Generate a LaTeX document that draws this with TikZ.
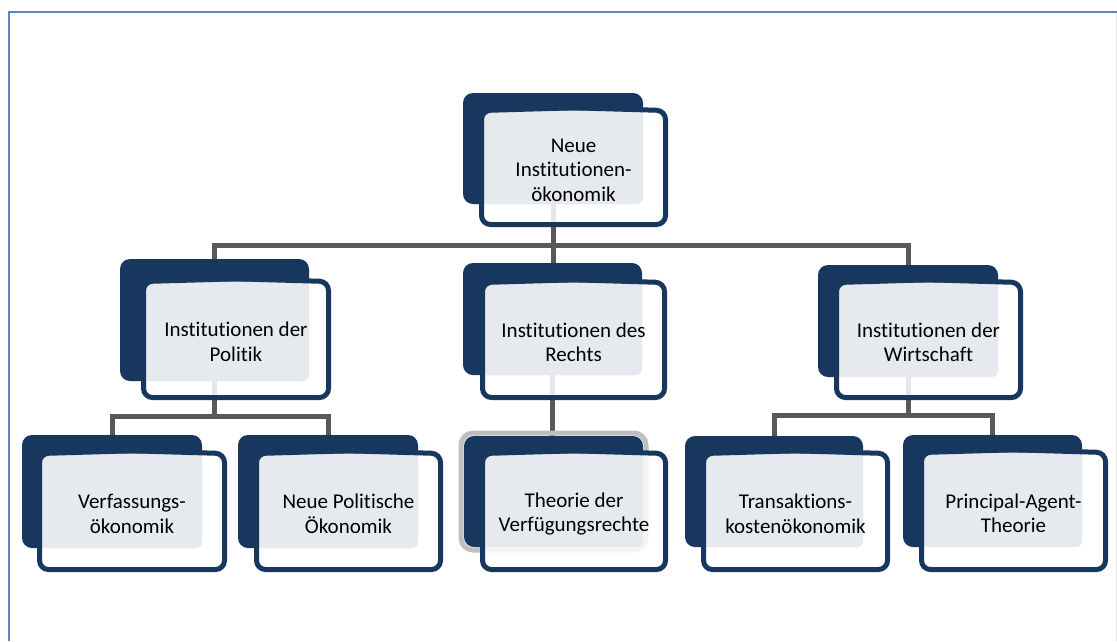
\documentclass[tikz,border=0pt]{standalone}
\usepackage{fontspec}
\setmainfont{Carlito}[Ligatures=NoCommon]
\usetikzlibrary{fit}

\definecolor{navy}{HTML}{17375E}
\definecolor{panelgray}{HTML}{E6E9EE}
\definecolor{linkgray}{HTML}{595959}
\definecolor{frameblue}{HTML}{5B85C6}
\definecolor{halogray}{HTML}{BFBFBF}

\tikzset{
  backbox/.style={rectangle, rounded corners=10pt, fill=navy, inner sep=0pt, draw=none},
  frontfill/.style={fill=white, fill opacity=0.86, rounded corners=9pt},
  frontline/.style={draw=navy, line width=5pt, rounded corners=9pt, line join=round},
  panel/.style={fill=panelgray, rounded corners=6pt},
  conn/.style={draw=linkgray, line width=5pt},
  boxtext/.style={align=center, text=black, font=\fontsize{21}{24.5}\selectfont, inner sep=0pt, yshift=-2.5pt},
  halo/.style={draw=halogray, line width=5pt, rounded corners=12pt, line join=round},
}

% #1 name, #2 back top-left, #3 back bottom-right,
% #4 front top-left, #5 front bottom-right, #6 caption
\newcommand\orgbox[6]{%
  \coordinate (#1-bnw) at (#2);
  \coordinate (#1-bse) at (#3);
  \coordinate (#1-fnw) at (#4);
  \coordinate (#1-fse) at (#5);
  \coordinate (#1-enw) at ([shift={(2.5,2.5)}]#1-fnw);
  \coordinate (#1-ese) at ([shift={(-2.5,-2.5)}]#1-fse);
  \node[backbox, fit=(#1-bnw)(#1-bse)] (#1) {};
  \node[inner sep=0pt, fit=(#1-fnw)(#1-fse)] (#1f) {};
  \fill[frontfill] (#1-enw) rectangle (#1-ese);
  \begin{scope}
    \clip[rounded corners=9pt] (#1-enw) rectangle (#1-ese);
    \fill[panel] (#1-fnw) rectangle (#1-bse);
  \end{scope}
  \draw[frontline] (#1f.north) -- (#1-enw -| #1-ese) -- (#1-ese)
    -- (#1-ese -| #1-enw) -- (#1-enw) -- cycle;
  \node[boxtext] (#1t) at (#1f.center) {#6};
}

\begin{document}
\begin{tikzpicture}[x=1pt, y=-1pt]
  \useasboundingbox (0,0) rectangle (1117,641);
  \fill[white] (0,0) rectangle (1117,641);

  % frame
  \draw[frameblue, line width=2pt] (9,641) -- (9,12) -- (1117,12);
  \draw[black!10, line width=1pt] (1116,13) -- (1116,641);

  % anchors of the box corners (needed before the connectors)
  \path
    (463,93)  coordinate (A-bnw) (643,204) coordinate (A-bse)
    (120,259) coordinate (B-bnw) (309,381) coordinate (B-bse)
    (463,263) coordinate (C-bnw) (642,375) coordinate (C-bse)
    (818,265) coordinate (W-bnw) (998,377) coordinate (W-bse)
    (22,435)  coordinate (D-bnw) (202,548) coordinate (D-bse)
    (238,435) coordinate (E-bnw) (418,548) coordinate (E-bse)
    (464,436) coordinate (F-bnw) (643,547) coordinate (F-bse)
    (685,436) coordinate (G-bnw) (863,547) coordinate (G-bse)
    (903,435) coordinate (H-bnw) (1082,547) coordinate (H-bse);
  \foreach \n in {A,B,C,W,D,E,F,G,H}
    \node[inner sep=0pt, fit=(\n-bnw)(\n-bse)] (\n) {};

  % bus lines
  \coordinate (bar1) at (0,245);
  \coordinate (bar2) at (0,416);
  \coordinate (bar3) at (0,415);

  % connectors
  \draw[conn] (A.south) -- (A.south |- C.north);
  \draw[conn] (B.north) -- (B.north |- bar1) -| (W.north);
  \draw[conn] (B.south) -- (B.south |- bar2);
  \draw[conn] (D.north) -- (D.north |- bar2) -| (E.north);
  \draw[conn] (C.south) -- (C.south |- F.north);
  \draw[conn] (W.south) -- (W.south |- bar3);
  \draw[conn] (G.north) -- (G.north |- bar3) -| (H.north);

  % highlighted box outline
  \draw[halo] (553.5,433) -- (646,433) -- (646,550) -- (461,550) -- (461,433) -- cycle;

  % boxes
  \orgbox{A}{463,93}{643,204}{479,108}{668,227}{Neue\\Institutionen-\\ökonomik}
  \orgbox{B}{120,259}{309,381}{141,279}{331,400}{Institutionen der\\Politik}
  \orgbox{C}{463,263}{642,375}{480,280}{667,400}{Institutionen des\\Rechts}
  \orgbox{W}{818,265}{998,377}{834,280}{1023,400}{Institutionen der\\Wirtschaft}
  \orgbox{D}{22,435}{202,548}{37,451}{227,572}{Verfassungs-\\ökonomik}
  \orgbox{E}{238,435}{418,548}{254,451}{443,572}{Neue Politische\\Ökonomik}
  \orgbox{F}{464,436}{643,547}{480,451}{668,572}{Theorie der\\Verfügungsrechte}
  \orgbox{G}{685,436}{863,547}{701,451}{890,572}{Transaktions-\\kostenökonomik}
  \orgbox{H}{903,435}{1082,547}{919,450}{1108,572}{Principal-Agent-\\Theorie}
\end{tikzpicture}
\end{document}
